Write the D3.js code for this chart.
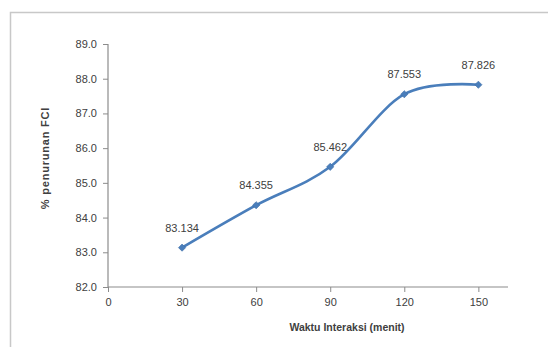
<!DOCTYPE html>
<html><head><meta charset="utf-8">
<script src="https://cdn.jsdelivr.net/npm/d3@7"></script>
<style>
html,body{margin:0;padding:0;background:#fff;}
svg{display:block;font-family:"Liberation Sans",Arial,sans-serif;}
</style></head>
<body>
<script>
const times = [30, 60, 90, 120, 150];
const removal = [83.134, 84.355, 85.462, 87.553, 87.826];
const labels = ["83.134", "84.355", "85.462", "87.553", "87.826"];
const xTicks = [0, 30, 60, 90, 120, 150];
const yTicks = [82, 83, 84, 85, 86, 87, 88, 89];
const xTitle = "Waktu Interaksi (menit)";
const yTitle = "% penurunan FCl";

const W = 548, H = 347;
const svg = d3.select("body").append("svg").attr("width", W).attr("height", H);

svg.append("rect").attr("x", 10.5).attr("y", 12.5).attr("width", W + 10).attr("height", H + 10)
  .attr("fill", "#fff").attr("stroke", "#c8c8c8").attr("stroke-width", 1.5);

const x = d3.scaleLinear().domain([0, 162]).range([108, 508]);
const y = d3.scaleLinear().domain([82, 89]).range([287, 44]);

const textColor = "#404040", axisColor = "#8c8c8c";

const gy = svg.append("g").attr("transform", `translate(${x(0)},0)`)
  .call(d3.axisLeft(y).tickValues(yTicks).tickSize(5).tickPadding(6).tickFormat(d3.format(".1f")));
const gx = svg.append("g").attr("transform", `translate(0,${y(82)})`)
  .call(d3.axisBottom(x).tickValues(xTicks).tickSize(5).tickPadding(6).tickFormat(d3.format("d")));
[gx, gy].forEach(g => {
  g.select(".domain").attr("stroke", axisColor).attr("stroke-width", 1.2);
  g.selectAll(".tick line").attr("stroke", axisColor);
  g.selectAll(".tick text").attr("fill", textColor).attr("font-size", 11)
    .attr("font-family", "Liberation Sans, Arial, sans-serif");
});
gy.select(".domain").attr("d", `M-0,${y(82)}V${y(89)}`);
gx.select(".domain").attr("d", `M${x(0)},0H${x(162)}`);

const pts = times.map((t, i) => [x(t), y(removal[i])]);
svg.append("path").attr("d", d3.line().curve(d3.curveCatmullRom.alpha(0))(pts))
  .attr("fill", "none").attr("stroke", "#4a7ebb").attr("stroke-width", 2.6);

svg.selectAll(".mk").data(pts).join("path").attr("class", "mk")
  .attr("transform", d => `translate(${d[0]},${d[1]}) rotate(45)`)
  .attr("d", d3.symbol(d3.symbolSquare, 26)())
  .attr("fill", "#4a7ebb").attr("stroke", "#3e6fa8").attr("stroke-width", 0.6);

svg.selectAll(".lbl").data(pts).join("text").attr("class", "lbl")
  .attr("x", d => d[0]).attr("y", d => d[1] - 16)
  .attr("text-anchor", "middle").attr("font-size", 11).attr("fill", textColor)
  .text((d, i) => labels[i]);

svg.append("text").attr("x", 347).attr("y", 331).attr("text-anchor", "middle")
  .attr("font-size", 10.5).attr("font-weight", "bold").attr("fill", textColor).text(xTitle);

svg.append("text").attr("transform", `translate(49,158) rotate(-90)`)
  .attr("text-anchor", "middle").attr("font-size", 11).attr("font-weight", "bold")
  .attr("letter-spacing", 0.8)
  .attr("fill", textColor).text(yTitle);
</script>
</body></html>
